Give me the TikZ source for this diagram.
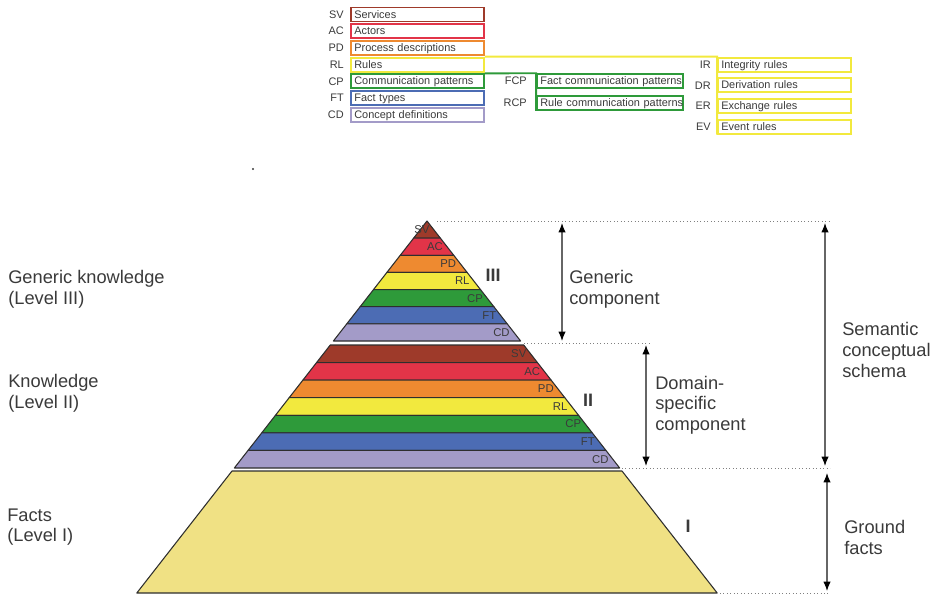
\documentclass[tikz,border=0pt]{standalone}
\usepackage{fontspec}
\setmainfont{Liberation Sans}
\usetikzlibrary{arrows.meta}

\definecolor{txtcol}{HTML}{3A3A3A}
\definecolor{edgecol}{HTML}{2E2E2E}
\definecolor{svcol}{HTML}{9E3A2A}
\definecolor{accol}{HTML}{E23448}
\definecolor{pdcol}{HTML}{EE8A30}
\definecolor{rlcol}{HTML}{F2E93E}
\definecolor{cpcol}{HTML}{2E9A3A}
\definecolor{ftcol}{HTML}{4C6CB4}
\definecolor{cdcol}{HTML}{A39BC8}
\definecolor{factcol}{HTML}{F0E184}

\begin{document}
\begin{tikzpicture}[x=0.75pt,y=-0.75pt,
    every node/.style={inner sep=0pt,text=txtcol},
    band/.style={draw=edgecol,line width=0.8pt,line join=round},
    bandlbl/.style={anchor=east,font=\fontsize{8.5}{10}\selectfont},
    legbox/.style={draw,line width=1.4pt,minimum height=10.5pt,text width=94.75pt,
                   text height=7pt,text depth=1.5pt,
                   inner xsep=2.5pt,align=left,font=\fontsize{8.2}{10}\selectfont},
    legabbr/.style={anchor=east,font=\fontsize{8.2}{10}\selectfont},
    sidetext/.style={anchor=west,align=left,font=\fontsize{13.7}{15.5}\selectfont},
    numeral/.style={font=\fontsize{13.5}{15}\selectfont\bfseries},
    guide/.style={gray,dotted,line width=0.6pt},
    dimline/.style={{Latex[black,length=7pt,width=5.5pt]}-{Latex[black,length=7pt,width=5.5pt]},
                    gray!80!black,line width=0.8pt}]
  \useasboundingbox (0,0) rectangle (938,595);

  % legend
  \foreach \ab/\txt/\c [count=\i from 0] in {SV/Services/svcol,AC/Actors/accol,
      PD/Process descriptions/pdcol,RL/Rules/rlcol,CP/Communication patterns/cpcol,
      FT/Fact types/ftcol,CD/Concept definitions/cdcol} {
    \pgfmathsetmacro\yy{14.5+\i*16.7}
    \node[legbox,draw=\c] (l\ab) at (417.5,\yy) {\txt};
    \node[legabbr]        (a\ab) at (344,\yy)   {\ab};
  }
  \node[legbox,draw=cpcol,text width=104.5pt] (lFCP) at (610,81.2) {\mbox{Fact communication patterns}};
  \node[legbox,draw=cpcol,text width=104.5pt] (lRCP) at (610,103)  {\mbox{Rule communication patterns}};
  \node[legabbr] (aFCP) at (527,81.2) {FCP};
  \node[legabbr] (aRCP) at (527,103)  {RCP};
  \foreach \ab/\txt [count=\i from 0] in {IR/Integrity rules,DR/Derivation rules,
      ER/Exchange rules,EV/Event rules} {
    \pgfmathsetmacro\yy{64.6+\i*20.7}
    \node[legbox,draw=rlcol] (l\ab) at (784.5,\yy) {\txt};
    \node[legabbr]           (a\ab) at (711,\yy)   {\ab};
  }
  \draw[rlcol,line width=1.4pt] (lRL.north east) -- (lIR.north west) -- (lEV.south west);
  \draw[cpcol,line width=1.4pt] (lCP.north east) -- (lFCP.north west) -- (lRCP.south west);

  \fill[txtcol] (253,169) circle (1.2);

  % pyramid, levels III and II
  \foreach \ytop/\bh/\lv in {221/17.143/3,345/17.571/2}
    \foreach \c/\t [count=\i from 0] in {svcol/SV,accol/AC,pdcol/PD,rlcol/RL,
        cpcol/CP,ftcol/FT,cdcol/CD} {
      \pgfmathsetmacro\ya{\ytop+\i*\bh}
      \pgfmathsetmacro\yb{\ya+\bh}
      \pgfmathsetmacro\ym{\ya+\bh/2}
      \filldraw[band,fill=\c] ({427-0.78*(\ya-221)},\ya) -- ({427+0.78*(\ya-221)},\ya)
        -- ({427+0.78*(\yb-221)},\yb) -- ({427-0.78*(\yb-221)},\yb) -- cycle;
      \node[bandlbl] (b\lv\t) at ({427+0.78*(\ym-221)-4},\ym) {\t};
    }
  % level I
  \filldraw[band,fill=factcol] (232,471) -- (622,471) -- (717.2,593) -- (136.8,593) -- cycle;

  \node[numeral] (n3) at (493,275) {III};
  \node[numeral] (n2) at (588,400) {II};
  \node[numeral] (n1) at (688,526) {I};

  % guides and spans
  \coordinate (g1a) at (437,221); \coordinate (g1b) at (830,221);
  \coordinate (g2a) at (524,343); \coordinate (g2b) at (652,343);
  \coordinate (g3a) at (622,468); \coordinate (g3b) at (830,468);
  \coordinate (g4a) at (720,593); \coordinate (g4b) at (830,593);
  \draw[guide] (g1a) -- (g1b);
  \draw[guide] (g2a) -- (g2b);
  \draw[guide] (g3a) -- (g3b);
  \draw[guide] (g4a) -- (g4b);

  \coordinate (gen-t) at (562,223); \coordinate (gen-b) at (562,341);
  \coordinate (dom-t) at (646,345); \coordinate (dom-b) at (646,466);
  \coordinate (sem-t) at (825,223); \coordinate (sem-b) at (825,466);
  \coordinate (gro-t) at (827,473); \coordinate (gro-b) at (827,591);
  \draw[dimline] (gen-t) -- (gen-b);
  \draw[dimline] (dom-t) -- (dom-b);
  \draw[dimline] (sem-t) -- (sem-b);
  \draw[dimline] (gro-t) -- (gro-b);

  \node[sidetext] (generic)  at (569,289)   {Generic\\component};
  \node[sidetext] (domain)   at (655,405)   {Domain-\\specific\\component};
  \node[sidetext] (semantic) at (842,350)   {Semantic\\conceptual\\schema};
  \node[sidetext] (ground)   at (844,537.5) {Ground\\facts};

  \node[sidetext] (lev3) at (8,289)   {Generic knowledge\\(Level III)};
  \node[sidetext] (lev2) at (8,393.5) {Knowledge\\(Level II)};
  \node[sidetext] (lev1) at (7,527)   {Facts\\(Level I)};
\end{tikzpicture}
\end{document}
